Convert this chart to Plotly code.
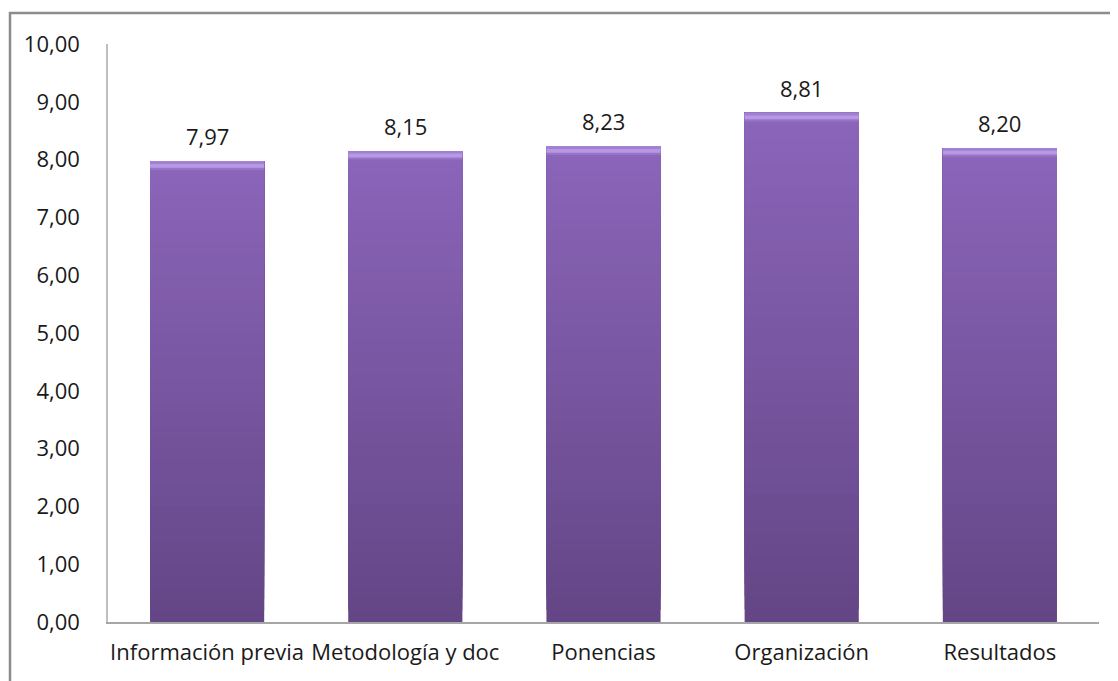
import plotly.graph_objects as go

categories = ["Información previa", "Metodología y doc", "Ponencias", "Organización", "Resultados"]
values = [7.97, 8.15, 8.23, 8.81, 8.20]
y_ticks = [0, 1, 2, 3, 4, 5, 6, 7, 8, 9, 10]
y_tick_labels = ["0,00", "1,00", "2,00", "3,00", "4,00", "5,00", "6,00", "7,00", "8,00", "9,00", "10,00"]

FONT = "Open Sans"
FS = 22
bottom_rgb = (100, 70, 134)
top_rgb = (139, 101, 186)
N = 40
bevel = 0.15

fig = go.Figure()

def mix(a, b, t):
    return "rgb(%d,%d,%d)" % tuple(round(a[k] + (b[k] - a[k]) * t) for k in range(3))

for i in range(N):
    t = (i + 0.5) / N
    bases = [v * i / N for v in values]
    heights = [v - b for v, b in zip(values, bases)]
    fig.add_trace(go.Bar(
        x=categories, y=heights, base=bases,
        marker=dict(color=mix(bottom_rgb, top_rgb, t), line=dict(width=0)),
        hoverinfo="skip", showlegend=False,
    ))

# top bevel
fig.add_trace(go.Bar(
    x=categories, y=[bevel] * len(values), base=[v - bevel for v in values],
    marker=dict(color="rgb(150,116,198)", line=dict(width=0)),
    hoverinfo="skip", showlegend=False,
))
fig.add_trace(go.Bar(
    x=categories, y=[bevel * 0.75] * len(values), base=[v - bevel * 0.75 for v in values],
    marker=dict(color="rgb(184,152,228)", line=dict(width=0)),
    hoverinfo="skip", showlegend=False,
))
fig.add_trace(go.Bar(
    x=categories, y=[bevel * 0.3] * len(values), base=[v - bevel * 0.3 for v in values],
    marker=dict(color="rgb(160,128,208)", line=dict(width=0)),
    hoverinfo="skip", showlegend=False,
))

for c, v in zip(categories, values):
    fig.add_annotation(
        x=c, y=v, text=("%.2f" % v).replace(".", ","),
        showarrow=False, yanchor="bottom", yshift=8,
        font=dict(family=FONT, size=FS, color="#1a1a1a"),
    )

W, H = 1110, 673
fig.update_layout(
    width=W, height=H,
    margin=dict(l=100, r=19, t=36, b=59),
    paper_bgcolor="white", plot_bgcolor="white",
    barmode="overlay", bargap=0.424,
    font=dict(family=FONT, size=FS, color="#1a1a1a"),
    xaxis=dict(showgrid=False, showline=True, linecolor="#a6a6a6", linewidth=1.5,
               ticks="", ticklabelstandoff=10,
               tickfont=dict(family=FONT, size=FS, color="#1a1a1a")),
    yaxis=dict(range=[0, 10], tickvals=y_ticks, ticktext=y_tick_labels,
               showgrid=False, showline=True, linecolor="#bfbfbf", linewidth=1.5,
               ticks="", ticklabelstandoff=22, zeroline=False,
               tickfont=dict(family=FONT, size=FS, color="#1a1a1a")),
    shapes=[dict(type="rect", xref="paper", yref="paper",
                 x0=(2 - 100) / 991, x1=1.2, y0=-0.3, y1=(614 - 5) / 578,
                 line=dict(color="#8c8c8c", width=2.5), fillcolor="rgba(0,0,0,0)", layer="below")],
)

fig.write_html("out.html")
